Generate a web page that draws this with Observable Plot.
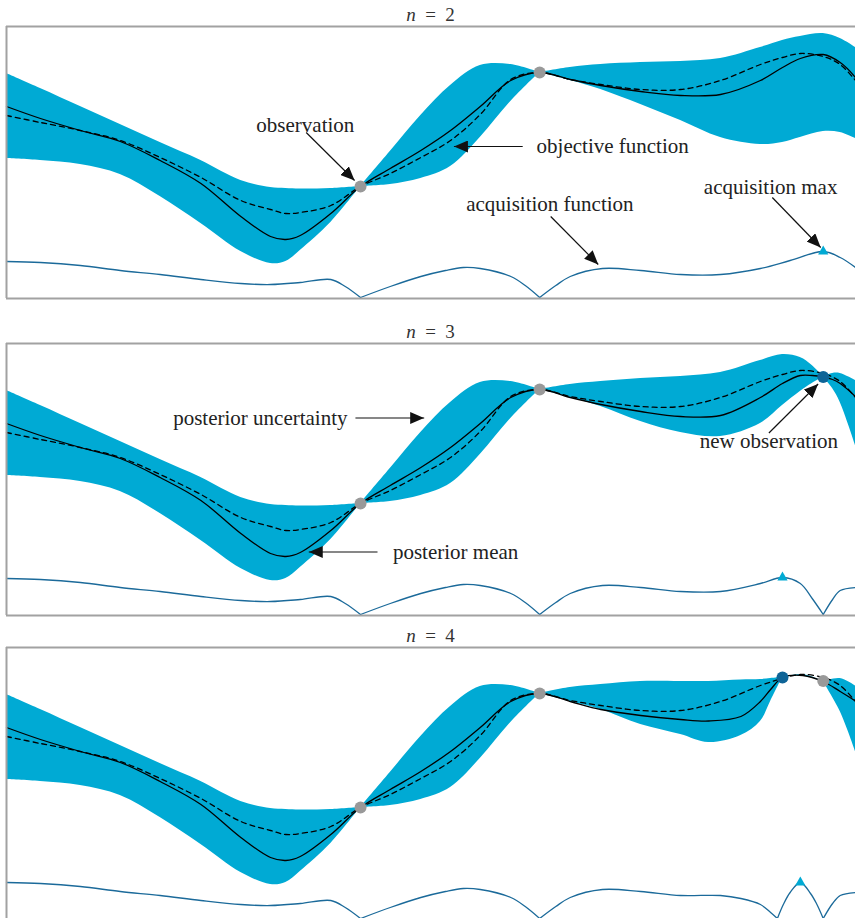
<!DOCTYPE html>
<html><head><meta charset="utf-8">
<script src="https://cdn.jsdelivr.net/npm/d3@7"></script>
<script src="https://cdn.jsdelivr.net/npm/@observablehq/plot@0.6"></script>
<style>
html,body{margin:0;padding:0;background:#fff;overflow:hidden;}
#root{position:relative;width:855px;height:918px;overflow:hidden;}
.panel{position:absolute;left:0;}
.title{position:absolute;left:0;width:861px;text-align:center;font-family:"Liberation Serif",serif;font-size:19px;line-height:20px;color:#333;}
.title span.eq{margin:0 0.5em;}
</style></head><body><div id="root"></div>
<script>
// ---------- data (x: 0..100 across the frame, y: height above the frame bottom) ----------
const titles = ["2", "3", "4"];

// left part of the posterior, shared by all panels
const xLeft     = [0, 4.0, 8.7, 13.4, 18.1, 22.9, 27.6, 31.1, 32.9, 34.6, 38.2, 41.7, 45.2, 48.8, 52.3, 55.8, 59.4, 62.8];
const upperLeft = [225, 210, 192, 174, 156, 138, 118, 111, 110, 109.5, 110, 112, 147, 183, 213, 233, 234, 226];
const lowerLeft = [140, 138, 134, 124, 102, 75, 47, 35, 37, 48, 76, 112, 114, 120, 132, 161, 197, 226];
const meanLeft  = [192, 180, 168, 157, 138, 115, 82, 62, 59, 63, 85, 112, 130, 148, 168, 192, 218, 226];

// right part, n = 2
const xRight1     = [66.4, 70.0, 74.7, 79.4, 84.1, 88.8, 91.4, 93.5, 96.2, 98.2, 100];
const upperRight1 = [231, 234, 236, 237, 240, 251, 258, 262, 265, 260, 251];
const lowerRight1 = [218, 209, 194, 178, 161, 154, 156, 161, 167, 166, 160];
const meanRight1  = [219, 213, 207, 203, 204, 218, 231, 240, 244, 236, 221];
// right part, n = 3
const xRight2     = [66.4, 70.0, 74.7, 79.4, 84.1, 88.8, 91.4, 93.5, 94.9, 96.2, 97.3, 98.2, 100];
const upperRight2 = [231, 234, 237, 239, 243, 255, 261, 258, 250, 238.5, 242, 242, 235];
const lowerRight2 = [218, 209, 194, 183, 179, 192, 210, 224, 232, 238.5, 227, 213, 170];
const meanRight2  = [218, 211, 204, 199, 200, 218, 232, 240, 240, 238.5, 236, 232, 219];
// right part, n = 4
const xRight3     = [66.4, 70.0, 74.7, 79.4, 82.7, 86.5, 88.8, 90.0, 91.4, 93.8, 96.2, 98.2, 100];
const upperRight3 = [232, 235, 238, 238, 238, 239.5, 240, 241, 242, 245, 238, 241, 233.5];
const lowerRight3 = [218, 210, 195, 185, 177, 184, 198, 218, 242, 243.5, 238, 208, 168];
const meanRight3  = [218, 210, 204, 200, 198.5, 203, 218, 230, 242, 244, 238, 228, 218.5];

// objective function (dashed), same in every panel
const xObj      = [0, 4.0, 8.7, 13.4, 18.1, 22.9, 27.6, 31.1, 32.9, 34.6, 38.2, 41.7, 45.2, 48.8, 52.3, 55.8, 59.4, 62.8, 66.4, 70.0, 74.7, 79.4, 84.1, 88.8, 91.4, 93.5, 96.2, 98.2, 100];
const objective = [183, 176, 168, 158, 141, 121, 98, 89, 85, 86, 93, 112, 125, 141, 158, 184, 219, 226, 219, 214, 209, 209, 218, 234, 241, 245, 242, 234, 218];

// acquisition function
const acqLeftX = [0, 4.0, 8.7, 13.4, 18.1, 22.9, 27.6, 31.1, 34.6, 38.2, 39.9, 41.7, 45.2, 48.8, 51.7, 53.8, 55.8, 59.4, 61.1, 62.8, 64.7, 66.4, 70.2, 74.7, 79.4, 84.1];
const acqLeft  = [37, 36, 33, 28, 24, 19, 15, 14, 16, 19, 12, 1, 12, 22, 28, 31, 30, 22, 13, 1, 13, 22, 30, 28, 24, 24];
const acqRightX1 = [88.8, 92.3, 96.2, 98.2, 100];
const acqRight1  = [30, 38, 47, 41, 31];
const acqRightX2 = [88.8, 91.4, 93.5, 94.9, 96.2, 97.3, 98.2, 100];
const acqRight2  = [32, 38, 32, 17, 1, 16, 25, 28];
const acqRightX3 = [86.5, 88.8, 90.0, 90.8, 91.5, 92.3, 93.5, 94.7, 95.4, 96.2, 97.3, 98.2, 100];
const acqRight3  = [21, 15, 7, 1, 15, 27, 37, 26, 16, 1, 16, 24, 27];

// observations
const obsX1 = [41.7, 62.8];             const obsY1 = [112, 226];
const obsX2 = [41.7, 62.8];             const obsY2 = [112, 226];
const newX2 = [96.2];                   const newY2 = [238.5];
const obsX3 = [41.7, 62.8, 96.2];       const obsY3 = [112, 226, 238.5];
const newX3 = [91.4];                   const newY3 = [242];
// acquisition maxima
const maxX = [96.2, 91.4, 93.5];
const maxY = [47, 38, 37];

// annotations
const noteText1 = ["observation", "objective function", "acquisition function", "acquisition max"];
const noteX1 = [35.2, 71.4, 64.0, 90.0];
const noteY1 = [173, 152, 94, 111];
const arrowFromX1 = [35.3, 60.8, 64.1, 90.2];
const arrowFromY1 = [166, 152, 82, 101];
const arrowToX1 = [41.0, 52.7, 69.7, 95.9];
const arrowToY1 = [118, 152, 34, 51];

const noteText2 = ["posterior uncertainty", "posterior mean", "new observation"];
const noteX2 = [29.9, 52.9, 89.8];
const noteY2 = [197.5, 63.5, 174.5];
const arrowFromX2 = [41.1, 43.7, 89.8];
const arrowFromY2 = [197.5, 63.5, 182.5];
const arrowToX2 = [49.2, 35.6, 95.6];
const arrowToY2 = [197.5, 63.5, 231.5];

// ---------- helpers ----------
const NS = "http://www.w3.org/2000/svg";
function filledArrow(color) {
  const m = document.createElementNS(NS, "marker");
  m.setAttribute("viewBox", "-14 -6 14 12");
  m.setAttribute("markerWidth", "14");
  m.setAttribute("markerHeight", "12");
  m.setAttribute("markerUnits", "userSpaceOnUse");
  m.setAttribute("orient", "auto");
  m.setAttribute("refX", "0");
  m.setAttribute("refY", "0");
  const p = document.createElementNS(NS, "path");
  p.setAttribute("d", "M-14,-6L0,0L-14,6Z");
  p.setAttribute("fill", "#111");
  p.setAttribute("stroke", "none");
  m.appendChild(p);
  return m;
}
function splitRows(xs, cols, cuts) {
  const rows = [];
  xs.forEach((x, i) => {
    const seg = cuts.filter(c => c < x - 1e-9).length;
    const r = {x, seg};
    for (const k in cols) r[k] = cols[k][i];
    rows.push(r);
    if (cuts.some(c => Math.abs(c - x) < 1e-9)) rows.push({...r, seg: seg + 1});
  });
  return rows;
}
const zipXY = (xs, ys) => xs.map((x, i) => ({x, y: ys[i]}));
const notes = (t, xs, ys) => t.map((s, i) => ({text: s, x: xs[i], y: ys[i]}));
const arrows = (x1, y1, x2, y2) => x1.map((_, i) => ({x1: x1[i], y1: y1[i], x2: x2[i], y2: y2[i]}));

const panels = [
  {top: 0, xR: xRight1, up: upperRight1, lo: lowerRight1, mu: meanRight1, bandCuts: [41.7, 62.8],
   aX: acqRightX1, aY: acqRight1, acqCuts: [41.7, 62.8],
   obs: zipXY(obsX1, obsY1), nw: [],
   notes: notes(noteText1, noteX1, noteY1), arrows: arrows(arrowFromX1, arrowFromY1, arrowToX1, arrowToY1)},
  {top: 317, xR: xRight2, up: upperRight2, lo: lowerRight2, mu: meanRight2, bandCuts: [41.7, 62.8, 96.2],
   aX: acqRightX2, aY: acqRight2, acqCuts: [41.7, 62.8, 96.2],
   obs: zipXY(obsX2, obsY2), nw: zipXY(newX2, newY2),
   notes: notes(noteText2, noteX2, noteY2), arrows: arrows(arrowFromX2, arrowFromY2, arrowToX2, arrowToY2)},
  {top: 621, xR: xRight3, up: upperRight3, lo: lowerRight3, mu: meanRight3, bandCuts: [41.7, 62.8, 91.4, 96.2],
   aX: acqRightX3, aY: acqRight3, acqCuts: [41.7, 62.8, 90.8, 96.2],
   obs: zipXY(obsX3, obsY3), nw: zipXY(newX3, newY3),
   notes: [], arrows: []}
];

const BAND = "#00aad4", ACQ = "#1b6a9a", NEW = "#0e6497", GRAY = "#999999", FRAME = "#a2a2a2";
const root = document.getElementById("root");

panels.forEach((p, k) => {
  const xs = xLeft.concat(p.xR);
  const band = splitRows(xs, {lo: lowerLeft.concat(p.lo), up: upperLeft.concat(p.up)}, p.bandCuts);
  const mean = zipXY(xs, meanLeft.concat(p.mu));
  const obj = zipXY(xObj, objective);
  const acq = splitRows(acqLeftX.concat(p.aX), {y: acqLeft.concat(p.aY)}, p.acqCuts);

  const chart = Plot.plot({
    width: 855, height: 300,
    marginLeft: 6, marginRight: 0, marginTop: 26, marginBottom: 2,
    x: {domain: [0, 100], axis: null},
    y: {domain: [0, 272], axis: null},
    style: {background: "transparent", overflow: "visible"},
    marks: [
      Plot.areaY(band, {x: "x", y1: "lo", y2: "up", z: "seg", fill: BAND, curve: "catmull-rom"}),
      Plot.line(obj, {x: "x", y: "y", stroke: "#000", strokeWidth: 1.3, strokeDasharray: "5,4", curve: "catmull-rom"}),
      Plot.line(mean, {x: "x", y: "y", stroke: "#000", strokeWidth: 1.3, curve: "catmull-rom"}),
      Plot.line(acq, {x: "x", y: "y", z: "seg", stroke: ACQ, strokeWidth: 1.3, curve: "catmull-rom"}),
      Plot.ruleY([0, 272], {stroke: FRAME, strokeWidth: 2}),
      Plot.ruleX([0], {stroke: FRAME, strokeWidth: 2}),
      Plot.link(p.arrows, {x1: "x1", y1: "y1", x2: "x2", y2: "y2", stroke: "#111", strokeWidth: 1.2, markerEnd: filledArrow}),
      Plot.dot(p.obs, {x: "x", y: "y", r: 6, fill: GRAY}),
      Plot.dot(p.nw, {x: "x", y: "y", r: 6, fill: NEW}),
      Plot.dot([{x: maxX[k], y: maxY[k]}], {x: "x", y: "y", r: 3.8, symbol: "triangle", fill: BAND}),
      Plot.text(p.notes, {x: "x", y: "y", text: "text", fontSize: 21, fontFamily: "Liberation Serif", fill: "#222"})
    ]
  });
  chart.classList.add("panel");
  chart.style.top = p.top + "px";
  root.appendChild(chart);

  const t = document.createElement("div");
  t.className = "title";
  t.style.top = (p.top + 5) + "px";
  t.innerHTML = '<i>n</i><span class="eq">=</span>' + titles[k];
  root.appendChild(t);
});
</script></body></html>
